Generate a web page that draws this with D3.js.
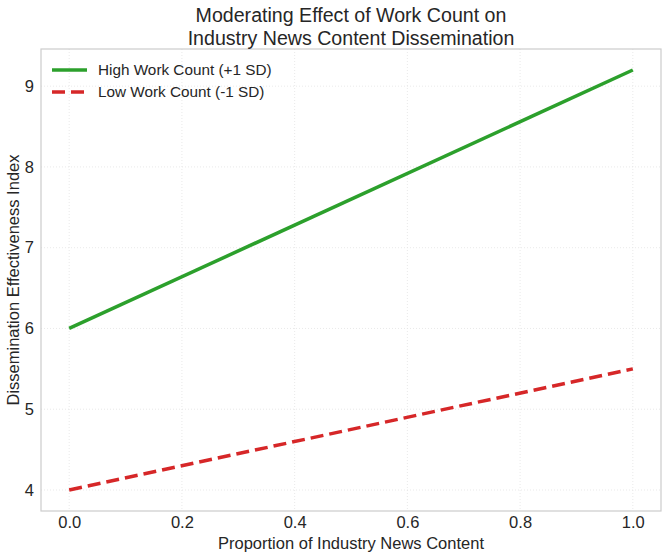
<!DOCTYPE html>
<html>
<head>
<meta charset="utf-8">
<script src="https://cdn.jsdelivr.net/npm/d3@7"></script>
<style>
  body { margin: 0; background: #fff; }
  text { font-family: "Liberation Sans", Arial, sans-serif; fill: #262626; }
</style>
</head>
<body>
<svg id="chart" width="667" height="557"></svg>
<script>
"use strict";

const proportion = [0.0, 1.0];
const highWork = [6.0, 9.2];
const lowWork = [4.0, 5.5];
const xTicks = [0.0, 0.2, 0.4, 0.6, 0.8, 1.0];
const yTicks = [4, 5, 6, 7, 8, 9];
const seriesNames = ["High Work Count (+1 SD)", "Low Work Count (-1 SD)"];

const svg = d3.select("#chart");
const margin = { top: 49, right: 6, bottom: 46, left: 41 };
const width = 667 - margin.left - margin.right;
const height = 557 - margin.top - margin.bottom;

const x = d3.scaleLinear().domain([-0.05, 1.05]).range([0, width]);
const y = d3.scaleLinear().domain([3.74, 9.46]).range([height, 0]);

const graph = svg.append("g")
  .attr("transform", `translate(${margin.left}, ${margin.top})`);

graph.append("rect")
  .attr("width", width)
  .attr("height", height)
  .attr("fill", "#fff");

// grid
graph.selectAll(".vgrid")
  .data(xTicks)
  .enter()
  .append("line")
  .attr("x1", (d) => x(d))
  .attr("x2", (d) => x(d))
  .attr("y1", 0)
  .attr("y2", height)
  .attr("stroke", "#e3e3e3")
  .attr("stroke-width", 0.8)
  .attr("stroke-dasharray", "1,2");

graph.selectAll(".hgrid")
  .data(yTicks)
  .enter()
  .append("line")
  .attr("x1", 0)
  .attr("x2", width)
  .attr("y1", (d) => y(d))
  .attr("y2", (d) => y(d))
  .attr("stroke", "#e3e3e3")
  .attr("stroke-width", 0.8)
  .attr("stroke-dasharray", "1,2");

// axes
const xAxis = graph.append("g")
  .attr("transform", `translate(0, ${height})`)
  .call(d3.axisBottom(x).tickValues(xTicks).tickFormat(d3.format(".1f")).tickSize(0).tickPadding(5));
const yAxis = graph.append("g")
  .call(d3.axisLeft(y).tickValues(yTicks).tickFormat(d3.format("d")).tickSize(0).tickPadding(7));
[xAxis, yAxis].forEach((a) => {
  a.select(".domain").remove();
  a.selectAll("text").attr("font-size", 16.5).attr("fill", "#262626")
    .style("font-family", "'Liberation Sans', Arial, sans-serif");
});

graph.append("rect")
  .attr("width", width)
  .attr("height", height)
  .attr("fill", "none")
  .attr("stroke", "#cccccc")
  .attr("stroke-width", 1.2);

// lines
const line = d3.line()
  .x((d) => x(d[0]))
  .y((d) => y(d[1]));

graph.append("path")
  .datum(d3.zip(proportion, highWork))
  .attr("d", line)
  .attr("fill", "none")
  .attr("stroke", "#2ca02c")
  .attr("stroke-width", 3.5);

graph.append("path")
  .datum(d3.zip(proportion, lowWork))
  .attr("d", line)
  .attr("fill", "none")
  .attr("stroke", "#d62728")
  .attr("stroke-width", 3.5)
  .attr("stroke-dasharray", "13,6");

// legend
const legend = graph.append("g").attr("transform", "translate(11, 21)");
const legendStyles = [
  { color: "#2ca02c", dash: null },
  { color: "#d62728", dash: "13,6" },
];
seriesNames.forEach((name, i) => {
  const row = legend.append("g").attr("transform", `translate(0, ${i * 22})`);
  row.append("line")
    .attr("x1", 0)
    .attr("x2", 35)
    .attr("stroke", legendStyles[i].color)
    .attr("stroke-width", 3.5)
    .attr("stroke-dasharray", legendStyles[i].dash);
  row.append("text")
    .attr("x", 46)
    .attr("dy", "0.35em")
    .attr("font-size", 15.3)
    .text(name);
});

// titles
svg.append("text")
  .attr("x", margin.left + width / 2)
  .attr("y", 22)
  .attr("text-anchor", "middle")
  .attr("font-size", 19.6)
  .text("Moderating Effect of Work Count on");
svg.append("text")
  .attr("x", margin.left + width / 2)
  .attr("y", 45)
  .attr("text-anchor", "middle")
  .attr("font-size", 19.6)
  .text("Industry News Content Dissemination");

svg.append("text")
  .attr("x", margin.left + width / 2)
  .attr("y", 549)
  .attr("text-anchor", "middle")
  .attr("font-size", 16.5)
  .text("Proportion of Industry News Content");

svg.append("text")
  .attr("transform", `translate(19, ${margin.top + height / 2}) rotate(-90)`)
  .attr("text-anchor", "middle")
  .attr("font-size", 16.5)
  .text("Dissemination Effectiveness Index");
</script>
</body>
</html>
